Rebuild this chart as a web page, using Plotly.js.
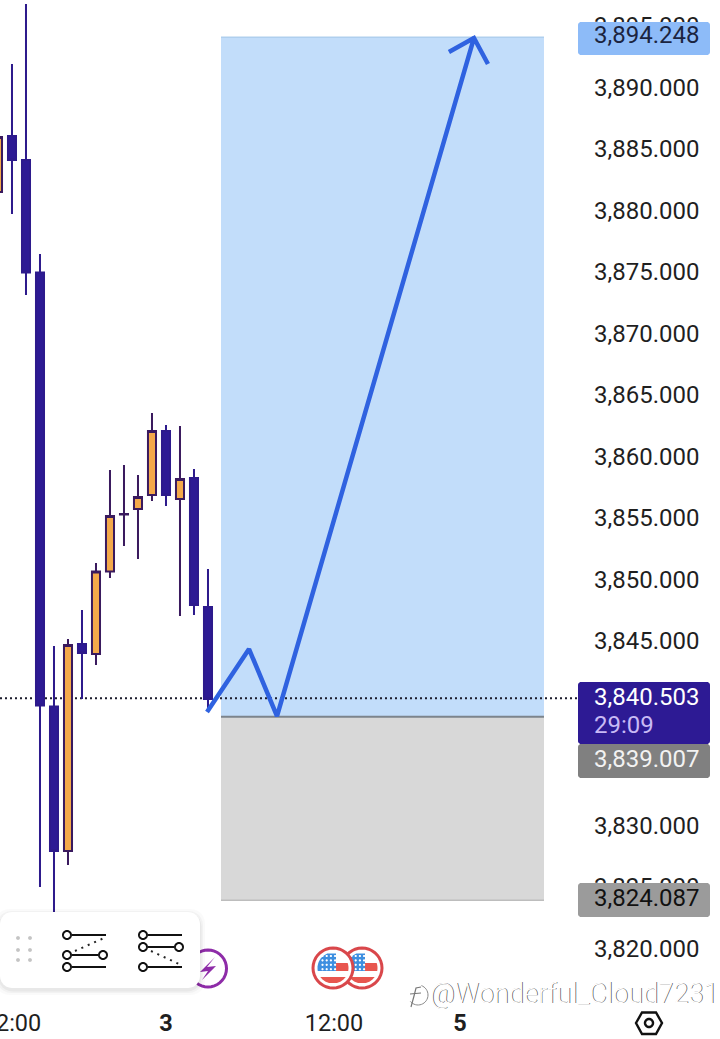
<!DOCTYPE html>
<html><head><meta charset="utf-8">
<script src="https://cdn.plot.ly/plotly-3.0.1.min.js"></script>
<style>html,body{margin:0;padding:0;background:#fff;overflow:hidden;width:720px;height:1039px}
#c{position:absolute;left:-40px;top:0;width:760px;height:1039px}</style></head>
<body><div id="c"></div>
<script>
// Candle data
const candleIndex=[0,1,2,3,4,5,6,7,8,9,10,11,12,13,14,15];
const opens =[3881.67,3886.22,3884.27,3875.12,3839.84,3828.09,3844.92,3844.11,3850.81,3855.45,3855.89,3857.03,3862.24,3856.71,3858.41,3847.93];
const closes=[3886.14,3884.27,3875.12,3839.92,3828.09,3844.84,3844.18,3850.81,3855.33,3855.49,3856.87,3862.24,3857.03,3858.33,3848.09,3840.45];
const highs =[3887.00,3892.07,3896.95,3876.63,3844.76,3845.32,3847.68,3851.50,3859.07,3859.47,3858.66,3863.70,3862.72,3862.64,3859.15,3851.02];
const lows  =[3880.50,3879.88,3873.29,3825.16,3821.67,3826.95,3840.45,3843.21,3850.28,3852.89,3851.83,3856.54,3856.14,3847.20,3847.28,3839.39];
// Projected path drawn over the chart
const pathX=[14.93,17.93,19.93,34,32.21,34,35];
const pathY=[3839.39,3844.51,3839.06,3894.19,3893.05,3894.19,3892.07];
// Position tool levels
const zoneLeft=15.93, zoneRight=39;
const xStart=-2.714, xEnd=41.43;
const targetPrice=3894.248, entryPrice=3839.007, stopPrice=3824.087, lastPrice=3840.503;
const countdown="29:09";
const priceTicks=[3895,3890,3885,3880,3875,3870,3865,3860,3855,3850,3845,3830,3825,3820];
const timeTicks=[1,12,24,33];
const timeLabels=["12:00","<b>3</b>","12:00","<b>5</b>"];

const W=760,H=1039,L=-40,plotR=142,plotB=36;
const px=x=>(x-L)/(W-plotR);
const py=y=>1-y/(H-plotB);
const fmt=v=>v.toLocaleString('en-US',{minimumFractionDigits:3,maximumFractionDigits:3});
const P=(pts,close)=>'M'+pts.map(p=>px(p[0])+','+py(p[1])).join('L')+(close?'Z':'');
function rrect(x0,y0,x1,y1,r){
  const pts=[];const st=6;
  const arc=(cx,cy,a0)=>{for(let i=0;i<=st;i++){const a=a0+i/st*Math.PI/2;pts.push([cx+r*Math.cos(a),cy+r*Math.sin(a)]);}};
  arc(x1-r,y0+r,-Math.PI/2);arc(x1-r,y1-r,0);arc(x0+r,y1-r,Math.PI/2);arc(x0+r,y0+r,Math.PI);
  return P(pts,true);
}
function circ(cx,cy,r){const pts=[];for(let i=0;i<36;i++){const a=i/36*2*Math.PI;pts.push([cx+r*Math.cos(a),cy+r*Math.sin(a)]);}return P(pts,true);}
function arcPath(cx,cy,r,a0,a1){const pts=[];for(let i=0;i<=24;i++){const a=(a0+(a1-a0)*i/24)*Math.PI/180;pts.push([cx+r*Math.cos(a),cy+r*Math.sin(a)]);}return P(pts);}
const deco=(path,fill,lineColor,lw,extra)=>Object.assign({type:'path',xref:'paper',yref:'paper',layer:'above',path,fillcolor:fill||'rgba(0,0,0,0)',line:{color:lineColor||'rgba(0,0,0,0)',width:lw||0}},extra||{});
const seg=(a,b,c,w,dash)=>deco(P([a,b]),null,c||'#111',w||2,dash?{line:{color:c||'#111',width:w||2,dash}}:{});

const shapes=[
 {type:'rect',xref:'x',yref:'y',x0:zoneLeft,x1:zoneRight,y0:entryPrice,y1:targetPrice,fillcolor:'#C2DDFA',line:{width:0},layer:'below'},
 {type:'rect',xref:'x',yref:'y',x0:zoneLeft,x1:zoneRight,y0:stopPrice,y1:entryPrice,fillcolor:'#D8D8D8',line:{width:0},layer:'below'},
 {type:'line',xref:'x',yref:'y',x0:zoneLeft,x1:zoneRight,y0:targetPrice,y1:targetPrice,line:{color:'#AFCFEE',width:1.5},layer:'below'},
 {type:'line',xref:'x',yref:'y',x0:zoneLeft,x1:zoneRight,y0:stopPrice,y1:stopPrice,line:{color:'#BDBDBD',width:1.5},layer:'below'},
 {type:'line',xref:'x',yref:'y',x0:zoneLeft,x1:zoneRight,y0:entryPrice,y1:entryPrice,line:{color:'#7C848C',width:2},layer:'below'},
 {type:'line',xref:'x',yref:'y',x0:xStart,x1:xEnd,y0:lastPrice,y1:lastPrice,line:{color:'#1c1c2c',width:2,dash:'2px,3px'},layer:'below'},
 // price tags
 deco(rrect(578,22,710,55,3),'#8DBBF8'),
 deco(rrect(578,744,710,778,3),'#808080'),
 deco(rrect(578,682,710,744,3),'#2D1A94'),
 deco(rrect(578,883,710,917,3),'#9B9B9B'),
 // event icons
 deco(circ(208,968.5,18.5),'#fff','#8E2CA8',3),
 deco(P([[215,957],[207,967],[216,966],[202,980],[208,971],[200,972]],true),'#8E2CA8'),
];
function flag(cx,cy){
  const R=15.5;
  shapes.push(deco(circ(cx,cy,20),'#fff','#D9474B',3));
  const clip=(x0,x1,y0,y1,c)=>{
    const left=[],right=[];
    for(let i=0;i<=12;i++){const y=y0+(y1-y0)*i/12;const hw=Math.sqrt(Math.max(0,R*R-(y-cy)*(y-cy)));
      const a=Math.max(cx-hw,x0),b=Math.min(cx+hw,x1);
      if(a<b){left.push([a,y]);right.unshift([b,y]);}}
    shapes.push(deco(P(left.concat(right),true),c));};
  clip(cx+3,cx+16,cy-5,cy+3,'#E8564F');
  clip(cx-16,cx+16,cy+9,cy+17,'#E8564F');
  clip(cx-16,cx+3,cy-16,cy+3,'#3E8FE0');
  for(let i=0;i<4;i++)for(let j=0;j<4;j++){
    shapes.push(deco(circ(cx-10.5+i*4.2,cy-12+j*4.4,1.1),'#fff'));
  }
}
flag(362,968);flag(333,968);
// toolbar card
[[5,0.02],[3,0.03],[1.5,0.04]].forEach(s=>shapes.push(deco(rrect(-s[0],912-s[0]+2,200+s[0],988+s[0]+2,14),`rgba(0,0,0,${s[1]})`)));
shapes.push(deco(rrect(0,912,200,988,12),'#fff'));
[[18,938],[30,938],[18,950],[30,950],[18,960],[30,960]].forEach(d=>shapes.push(deco(circ(d[0],d[1],1.9),'#C4C4C4')));
function ring(x,y){shapes.push(deco(circ(x,y,4),'#fff','#111',2));}
// left tool
shapes.push(seg([72,935],[106,935]),seg([72,967],[106,967]),seg([72,955],[98,955]));
shapes.push(seg([75,951],[104,938],'#222',2,'2px,5px'));
ring(67,935);ring(67,955);ring(103,955);ring(67,967);
// right tool
shapes.push(seg([148,935],[182,935]),seg([148,967],[182,967]),seg([148,947],[174,947]));
shapes.push(seg([151,951],[179,964],'#222',2,'2px,5px'));
ring(143,935);ring(143,947);ring(179,947);ring(143,967);
// settings hexagon
shapes.push(deco(P([[636,1023],[642,1012.5],[656,1012.5],[662,1023],[656,1034],[642,1034]],true),'#fff','#111',2.4));
shapes.push(deco(circ(649,1023,4),'#fff','#111',2.4));
// watermark glyph
shapes.push(deco(arcPath(418,995,10,-70,140),null,'#8a8a8a',1));
shapes.push(deco(P([[421,987],[416,988],[414,996],[411,1007]]),null,'#777',1.2));
shapes.push(deco(P([[410,994],[421,993]]),null,'#777',1));

const tagFont=(c)=>({family:'Roboto',size:24,color:c});
const note=(t,x,y,c,extra)=>Object.assign({text:t,xref:'paper',yref:'paper',x:px(x),y:py(y),xanchor:'left',yanchor:'middle',showarrow:false,font:tagFont(c),borderpad:0},extra||{});
const annotations=[
 note(fmt(targetPrice),592.5,35,'#1B2440'),
 note(fmt(lastPrice),592.5,697,'#fff'),
 note(countdown,592.5,725,'#C8BAF5'),
 note(fmt(entryPrice),592.5,759,'#F2F2F2'),
 note(fmt(stopPrice),592.5,898,'#111'),
 {text:'@Wonderful_Cloud7231',xref:'paper',yref:'paper',x:px(428),y:py(994),xanchor:'left',yanchor:'middle',showarrow:false,
  font:{family:'Roboto',weight:300,size:27.2,color:'#fff',shadow:'0.7px 0.2px 0.5px #555'}},
];

const candle={type:'candlestick',x:candleIndex,open:opens,high:highs,low:lows,close:closes,
 whiskerwidth:0,
 increasing:{line:{color:'#3A1A5E',width:2},fillcolor:'#F4A94A'},
 decreasing:{line:{color:'#2D1A8C',width:2},fillcolor:'#2D1A94'},
 hoverinfo:'skip'};
const path={type:'scatter',mode:'lines',x:pathX,y:pathY,line:{color:'#2F62E0',width:4.5,shape:'linear'},hoverinfo:'skip'};

Plotly.newPlot('c',[candle,path],{
 width:W,height:H,margin:{l:0,r:plotR,t:0,b:plotB,pad:0},
 paper_bgcolor:'#fff',plot_bgcolor:'#fff',showlegend:false,
 boxgap:0.3,boxgroupgap:0.18,
 xaxis:{type:'linear',range:[xStart,xEnd],rangeslider:{visible:false},showgrid:false,zeroline:false,showline:false,
   tickmode:'array',tickvals:timeTicks,ticktext:timeLabels,ticklen:0,ticks:'',ticklabelstandoff:3,tickfont:{family:'Roboto',size:23.5,color:'#1f1f1f'}},
 yaxis:{side:'right',range:[3815.73,3897.276],showgrid:false,zeroline:false,showline:false,
   tickmode:'array',tickvals:priceTicks,ticktext:priceTicks.map(fmt),ticks:'',ticklen:0,ticklabelstandoff:15,ticklabelshift:-2,
   tickfont:{family:'Roboto',size:24,color:'#1f1f1f'}},
 shapes,annotations
},{staticPlot:true,displayModeBar:false});
</script></body></html>
